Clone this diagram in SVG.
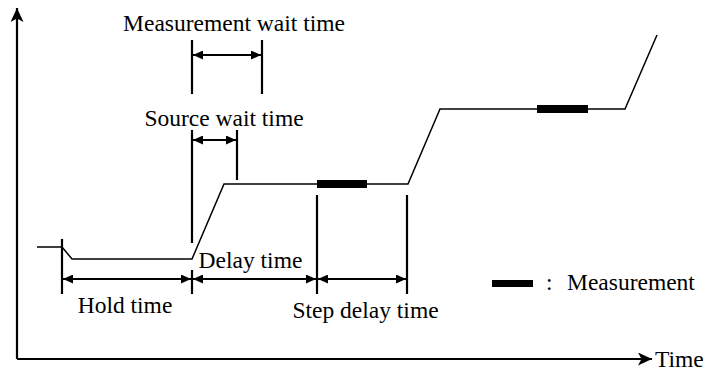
<svg xmlns="http://www.w3.org/2000/svg" width="710" height="372" viewBox="0 0 710 372">
<defs>
<style>
.t{font-family:"Liberation Serif","Times New Roman",serif;font-size:23.5px;fill:#000}
.ax{stroke:#000;stroke-width:2.2;fill:none}
.v{stroke:#000;stroke-width:2.2;fill:none}
.dim{stroke:#000;stroke-width:2.2;fill:none;marker-start:url(#tri);marker-end:url(#tri)}
.sig{stroke:#000;stroke-width:1.5;fill:none;stroke-linejoin:miter}
.meas{fill:#000}
</style>
<marker id="tri" viewBox="0 0 10 9" refX="10" refY="4.5" markerWidth="10" markerHeight="9" markerUnits="userSpaceOnUse" orient="auto-start-reverse">
<path d="M0,0 L10,4.5 L0,9 z" fill="#000"/>
</marker>
<marker id="axa" viewBox="0 0 14 13" refX="14" refY="6.5" markerWidth="14" markerHeight="13" markerUnits="userSpaceOnUse" orient="auto">
<path d="M0,0 L14,6.5 L0,13 L3.5,6.5 z" fill="#000"/>
</marker>
</defs>
<g id="axes">
<path class="ax" d="M17,359 L17,8" marker-end="url(#axa)"/>
<path class="ax" d="M17,359 L652,359" marker-end="url(#axa)"/>
<text class="t" x="655" y="367">Time</text>
</g>
<g id="signal">
<path class="sig" d="M37,247 L62,247 L72,259 L192,259 L224,184 L408,184 L440,109 L625,109 L657,35"/>
<rect class="meas" x="317" y="180" width="50" height="8"/>
<rect class="meas" x="537" y="105" width="51" height="8"/>
</g>
<g id="connectors">
<path class="v" d="M192,40 L192,94"/>
<path class="v" d="M262,40 L262,94"/>
<path class="dim" d="M193,55 L261,55"/>
<path class="v" d="M192,130 L192,243"/>
<path class="v" d="M237,130 L237,180"/>
<path class="dim" d="M193,140 L236,140"/>
<path class="v" d="M62,239 L62,294"/>
<path class="v" d="M192,270 L192,294"/>
<path class="v" d="M317,195 L317,294"/>
<path class="v" d="M407,195 L407,294"/>
<path class="dim" d="M63,279 L191,279"/>
<path class="dim" d="M193,279 L316,279"/>
<path class="dim" d="M318,279 L406,279"/>
</g>
<g id="labels">
<text class="t" x="234" y="31" text-anchor="middle">Measurement wait time</text>
<text class="t" x="224" y="126" text-anchor="middle">Source wait time</text>
<text class="t" x="250.5" y="268" text-anchor="middle">Delay time</text>
<text class="t" x="125" y="313" text-anchor="middle">Hold time</text>
<text class="t" x="365.5" y="318" text-anchor="middle">Step delay time</text>
</g>
<g id="legend">
<rect class="meas" x="492" y="280" width="41" height="7"/>
<text class="t" x="546" y="290">:<tspan x="567">Measurement</tspan></text>
</g>
</svg>
